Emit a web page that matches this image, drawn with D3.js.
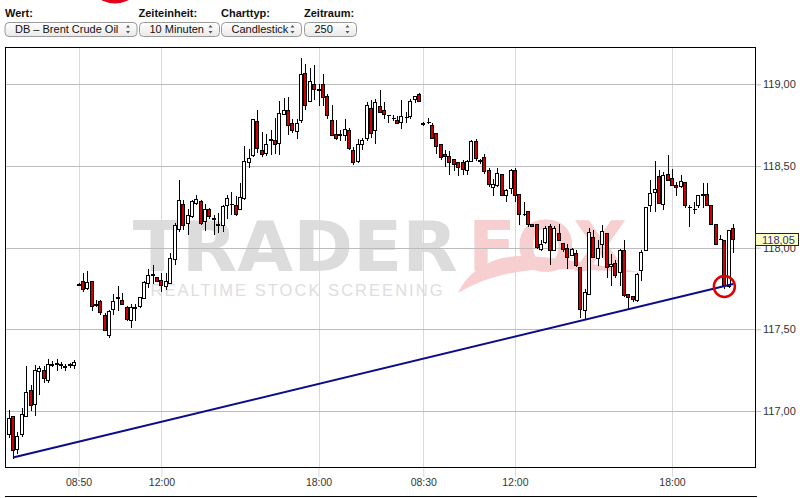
<!DOCTYPE html>
<html><head><meta charset="utf-8">
<script src="https://cdn.jsdelivr.net/npm/d3@7"></script>
<style>
body{margin:0;background:#fff;}
svg{display:block;font-family:"Liberation Sans",Arial,Helvetica,sans-serif;}
</style></head><body>
<svg id="c" width="809" height="498"></svg>
<script>
// ---------- DATA ----------
const open=[116.862,116.968,116.770,116.862,116.972,117.131,117.045,117.245,117.249,117.188,
117.285,117.295,117.283,117.276,117.283,117.280,117.780,117.796,117.755,117.794,
117.652,117.671,117.590,117.468,117.627,117.690,117.682,117.639,117.555,117.635,
117.641,117.694,117.783,117.830,117.820,117.800,117.765,117.783,117.933,118.115,
118.269,118.153,118.193,118.275,118.283,118.161,118.234,118.180,118.145,118.136,
118.263,118.270,118.259,118.239,118.304,118.524,118.565,118.777,118.600,118.581,
118.665,118.657,118.640,118.820,118.845,118.765,118.714,118.779,119.071,118.897,
119.004,118.970,118.999,118.926,118.779,118.698,118.695,118.687,118.718,118.600,
118.530,118.636,118.671,118.857,118.718,118.865,118.840,118.810,118.793,118.779,
118.769,118.800,118.804,118.912,118.938,118.765,118.767,118.748,118.701,118.632,
118.575,118.559,118.540,118.522,118.522,118.477,118.528,118.652,118.539,118.554,
118.473,118.371,118.381,118.449,118.320,118.367,118.477,118.330,118.206,118.222,
118.147,118.143,117.990,118.034,118.130,117.988,118.089,118.031,117.998,117.957,
117.969,117.881,117.616,117.718,118.065,117.939,118.020,118.092,117.886,117.906,
117.851,117.988,117.716,117.702,117.677,117.861,117.988,118.259,118.340,118.436,
118.267,118.449,118.428,118.381,118.375,118.402,118.249,118.234,118.259,118.330,
118.330,118.259,118.147,118.055,118.049,117.765,118.122];
const high=[117.004,116.970,116.870,117.017,117.274,117.157,117.282,117.275,117.274,117.320,
117.305,117.320,117.300,117.290,117.295,117.310,117.785,117.845,117.855,117.794,
117.677,117.677,117.600,117.620,117.718,117.763,117.722,117.640,117.653,117.653,
117.700,117.795,117.871,117.892,117.820,117.845,117.845,117.967,118.150,118.412,
118.289,118.239,118.294,118.320,118.290,118.269,118.240,118.198,118.210,118.260,
118.324,118.340,118.316,118.398,118.622,118.602,118.790,118.840,118.710,118.693,
118.720,118.793,118.895,118.916,118.922,118.790,118.790,119.163,119.122,119.102,
119.116,119.004,119.065,118.938,118.875,118.779,118.722,118.790,118.734,118.616,
118.667,118.671,118.891,118.901,118.912,118.967,118.891,118.812,118.810,118.803,
118.906,118.830,118.912,118.930,118.946,118.767,118.795,118.765,118.701,118.632,
118.595,118.589,118.540,118.522,118.534,118.539,118.657,118.667,118.540,118.571,
118.490,118.422,118.490,118.449,118.361,118.483,118.490,118.330,118.279,118.222,
118.147,118.143,118.045,118.130,118.143,118.130,118.143,118.031,118.024,118.000,
117.983,117.881,117.745,118.122,118.106,118.045,118.136,118.092,117.963,117.922,
117.994,118.045,117.718,117.704,117.845,117.983,118.250,118.412,118.530,118.473,
118.463,118.569,118.483,118.402,118.447,118.402,118.259,118.279,118.320,118.395,
118.395,118.259,118.147,118.075,118.049,118.110,118.143];
const low=[116.840,116.715,116.740,116.845,116.970,117.004,116.974,117.106,117.177,117.180,
117.275,117.253,117.265,117.253,117.270,117.266,117.775,117.733,117.749,117.616,
117.641,117.596,117.494,117.453,117.596,117.616,117.653,117.555,117.514,117.559,
117.635,117.694,117.759,117.786,117.796,117.734,117.749,117.783,117.902,118.100,
118.112,118.086,118.190,118.270,118.147,118.110,118.180,118.086,118.095,118.100,
118.181,118.208,118.200,118.236,118.300,118.493,118.560,118.585,118.560,118.565,
118.575,118.579,118.575,118.820,118.698,118.707,118.673,118.770,118.851,118.895,
118.912,118.871,118.871,118.793,118.690,118.663,118.657,118.657,118.602,118.514,
118.524,118.606,118.657,118.677,118.640,118.830,118.796,118.769,118.779,118.765,
118.732,118.769,118.796,118.891,118.895,118.750,118.765,118.673,118.579,118.540,
118.498,118.453,118.473,118.447,118.453,118.453,118.528,118.539,118.518,118.460,
118.377,118.320,118.375,118.320,118.285,118.334,118.285,118.147,118.200,118.135,
118.130,118.000,117.985,118.030,117.898,117.985,118.045,117.980,117.878,117.953,
117.890,117.575,117.561,117.716,117.940,117.892,117.942,117.820,117.769,117.820,
117.769,117.706,117.627,117.673,117.675,117.804,117.985,118.224,118.224,118.273,
118.239,118.416,118.386,118.320,118.370,118.248,118.130,118.212,118.250,118.248,
118.259,118.147,118.020,118.050,117.755,117.760,117.973];
const close=[116.960,116.764,116.845,116.980,117.119,117.035,117.249,117.263,117.204,117.290,
117.290,117.290,117.287,117.274,117.287,117.300,117.776,117.749,117.788,117.641,
117.646,117.608,117.498,117.610,117.671,117.695,117.657,117.561,117.639,117.639,
117.698,117.789,117.830,117.840,117.796,117.769,117.796,117.939,118.141,118.289,
118.136,118.202,118.283,118.300,118.153,118.239,118.193,118.175,118.140,118.255,
118.304,118.270,118.208,118.310,118.528,118.548,118.789,118.612,118.573,118.636,
118.660,118.634,118.826,118.840,118.753,118.722,118.765,119.065,118.871,119.020,
118.973,118.965,118.922,118.810,118.692,118.671,118.690,118.728,118.610,118.524,
118.636,118.657,118.875,118.704,118.889,118.830,118.816,118.810,118.793,118.765,
118.808,118.800,118.895,118.926,118.897,118.755,118.767,118.673,118.622,118.554,
118.559,118.524,118.514,118.493,118.481,118.528,118.651,118.548,118.530,118.467,
118.387,118.392,118.459,118.320,118.351,118.473,118.324,118.208,118.206,118.147,
118.135,118.004,118.020,118.122,117.983,118.122,118.049,117.994,117.942,117.990,
117.892,117.627,117.728,118.095,117.942,118.000,118.102,117.881,117.902,117.830,
117.983,117.708,117.698,117.688,117.841,117.973,118.248,118.334,118.361,118.273,
118.442,118.416,118.386,118.371,118.408,118.263,118.249,118.234,118.320,118.324,
118.259,118.147,118.024,118.055,117.769,118.110,118.055];
const xTickIndex=[16,35,71,95,116,152];
const xTickLabels=["08:50","12:00","18:00","08:30","12:00","18:00"];
const yTicks=[117,117.5,118,118.5,119];
const lastPrice=118.05;
const trendIdx=[1,166];
const trendPrice=[116.715,117.778];
const markIdx=164, markPrice=117.762;
const controlLabels=["Wert:","Zeiteinheit:","Charttyp:","Zeitraum:"];
const controlValues=["DB – Brent Crude Oil","10 Minuten","Candlestick","250"];

// ---------- LAYOUT ----------
const L=5,T=47,R=755,B=467;
const svg=d3.select("#c");
const n=open.length;
const x=d3.scaleLinear().domain([0,n-1]).range([8.7,733.1]);
const y=d3.scaleLinear().domain([117,119]).range([411,84.3]);
const fmt=d=>d3.format(".2f")(d).replace(".",",");

// top red logo fragment
svg.append("circle").attr("cx",115).attr("cy",-25).attr("r",28.5).attr("fill","#e2001a");

// controls
const cx=[5,138.5,221,304], bx=[5,139.5,221.5,304.5], bw=[132,80,80,52];
const defs=svg.append("defs");
const g=defs.append("linearGradient").attr("id","sel").attr("x1",0).attr("x2",0).attr("y1",0).attr("y2",1);
g.append("stop").attr("offset","0%").attr("stop-color","#ffffff");
g.append("stop").attr("offset","100%").attr("stop-color","#e9e9e9");
controlLabels.forEach((t,i)=>{
  svg.append("text").attr("x",cx[i]).attr("y",17).attr("font-size",11).attr("font-weight","bold").attr("fill","#111").text(t);
  svg.append("rect").attr("x",bx[i]).attr("y",22.5).attr("width",bw[i]).attr("height",14).attr("rx",4)
    .attr("fill","url(#sel)").attr("stroke","#9a9a9a");
  svg.append("text").attr("x",bx[i]+10).attr("y",33.2).attr("font-size",11).attr("fill","#111").text(controlValues[i]);
  const ax=bx[i]+bw[i]-9;
  svg.append("path").attr("d",`M${ax-2},27.5 L${ax+2},27.5 L${ax},25 Z M${ax-2},31 L${ax+2},31 L${ax},33.5 Z`).attr("fill","#555");
});

// watermark
const wm=svg.append("g");
wm.append("text").attr("x",132.7).attr("y",271).attr("font-family","DejaVu Sans").attr("font-weight","bold")
  .attr("font-size",69).attr("textLength",325).attr("lengthAdjust","spacingAndGlyphs").attr("fill","#dcdcdc").text("TRADER");
wm.append("text").attr("x",468).attr("y",271).attr("font-family","DejaVu Sans").attr("font-weight","bold")
  .attr("font-size",69).attr("textLength",159).attr("lengthAdjust","spacingAndGlyphs").attr("fill","#f7cfd0").text("FOX");
wm.append("path").attr("d","M458,293 C470,268 495,255 525,256 C560,257 600,266 645,273 C605,271 565,268 535,270 C505,272 480,280 458,293 Z")
  .attr("fill","#f7cfd0");
wm.append("text").attr("x",150.5).attr("y",296).attr("font-size",16.5).attr("textLength",292).attr("lengthAdjust","spacing")
  .attr("fill","#dedede").text("REALTIME STOCK SCREENING");

// grid
svg.append("g").selectAll("line").data(xTickIndex).join("line")
  .attr("x1",d=>Math.round(x(d))+0.5).attr("x2",d=>Math.round(x(d))+0.5).attr("y1",T).attr("y2",B)
  .attr("stroke","#d9d9d9");
svg.append("g").selectAll("line").data(yTicks).join("line")
  .attr("x1",L).attr("x2",R).attr("y1",d=>Math.round(y(d))+0.5).attr("y2",d=>Math.round(y(d))+0.5)
  .attr("stroke","#bcbcbc");

// axes
const yAxis=svg.append("g").attr("transform",`translate(${R},0)`)
  .call(d3.axisRight(y).tickValues(yTicks).tickSize(6).tickPadding(2).tickFormat(fmt));
yAxis.select(".domain").remove();
yAxis.selectAll("line").attr("stroke","#bcbcbc");
yAxis.selectAll("text").attr("font-size",11).attr("fill","#333").attr("font-family","Liberation Sans, Arial, sans-serif");
const xAxis=svg.append("g").attr("transform",`translate(0,${B})`)
  .call(d3.axisBottom(x).tickValues(xTickIndex).tickSize(10).tickPadding(2).tickFormat((d,i)=>xTickLabels[i]));
xAxis.select(".domain").remove();
xAxis.selectAll("line").attr("stroke","#d9d9d9");
xAxis.selectAll("text").attr("font-size",10.5).attr("fill","#333").attr("font-family","Liberation Sans, Arial, sans-serif");

// candles
const data=d3.range(n).map(i=>({i,o:open[i],h:high[i],l:low[i],c:close[i]}));
const cg=svg.append("g").attr("shape-rendering","crispEdges");
data.forEach(d=>{
  const px=Math.round(x(d.i));
  cg.append("line").attr("x1",px+0.5).attr("x2",px+0.5).attr("y1",Math.round(y(d.h))).attr("y2",Math.round(y(d.l))+1)
    .attr("stroke","#000");
  const top=Math.round(y(Math.max(d.o,d.c))), bot=Math.round(y(Math.min(d.o,d.c)));
  if(Math.abs(d.o-d.c)<1e-9){
    cg.append("line").attr("x1",px-1.5).attr("x2",px+2.5).attr("y1",top+0.5).attr("y2",top+0.5).attr("stroke","#000");
  } else {
    cg.append("rect").attr("x",px-1.5).attr("y",top+0.5).attr("width",3).attr("height",Math.max(bot-top,1))
      .attr("fill",d.c>=d.o?"#fff":"#cc0000").attr("stroke","#000");
  }
});

// trend line and marker
svg.append("line").attr("x1",x(trendIdx[0])).attr("y1",y(trendPrice[0])).attr("x2",x(trendIdx[1])).attr("y2",y(trendPrice[1]))
  .attr("stroke","#0c0c8a").attr("stroke-width",2);
svg.append("circle").attr("cx",x(markIdx)).attr("cy",y(markPrice)).attr("r",10.5)
  .attr("fill","none").attr("stroke","#e00000").attr("stroke-width",2.5);

// frame
svg.append("rect").attr("x",L+0.5).attr("y",T+0.5).attr("width",R-L).attr("height",B-T)
  .attr("fill","none").attr("stroke","#000");
svg.append("line").attr("x1",L).attr("x2",757).attr("y1",496.5).attr("y2",496.5).attr("stroke","#000");

// last price tag
const yp=Math.round(y(lastPrice));
svg.append("rect").attr("x",R+0.5).attr("y",yp-5.5).attr("width",43).attr("height",12)
  .attr("fill","#ffffc2").attr("stroke","#222");
svg.append("text").attr("x",R+7).attr("y",yp+4.5).attr("font-size",11).attr("fill","#2b2b9c").text(fmt(lastPrice));
</script>
</body></html>
